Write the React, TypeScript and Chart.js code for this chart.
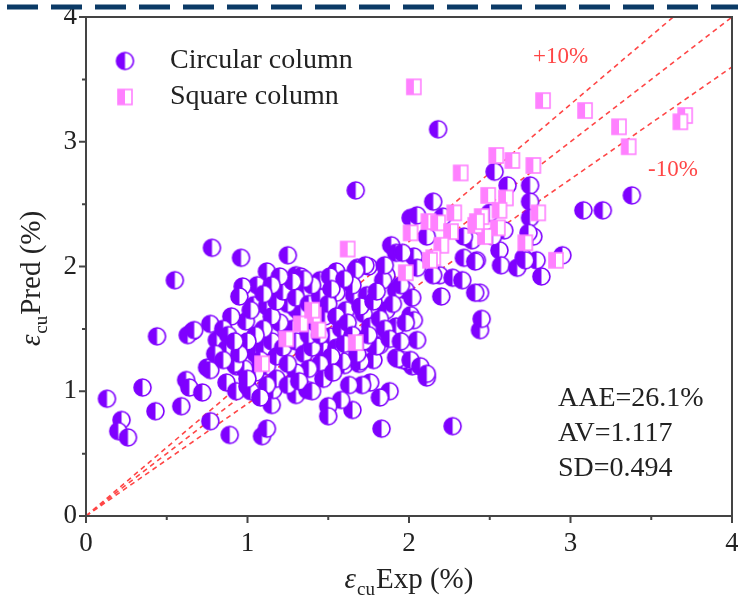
import React, { useEffect, useRef } from 'react';
import { Chart, registerables } from 'chart.js';

Chart.register(...registerables);

const SERIF = "'Liberation Serif', 'Times New Roman', Times, serif";

// ---- data ----
const xTicks = [0, 1, 2, 3, 4];
const yTicks = [0, 1, 2, 3, 4];
const refSlopes = [1.1, 1.0, 0.9];
const bandLabels = ['+10%', '-10%'];
const legendLabels = ['Circular column', 'Square column'];
const statsLines = ['AAE=26.1%', 'AV=1.117', 'SD=0.494'];

// [Exp, Pred] pairs
const circularColumn: [number, number][] = [
  [0.13, 0.94], [0.22, 0.77], [0.20, 0.68], [0.26, 0.63], [0.35, 1.03], [0.43, 0.84], [0.44, 1.44],
  [0.59, 0.88], [0.62, 1.09], [0.64, 1.03], [0.72, 0.99], [0.77, 0.76], [0.89, 0.65], [1.09, 0.64],
  [1.12, 0.70], [1.15, 0.89], [1.16, 1.01],
  [0.55, 1.89], [0.78, 2.15], [0.96, 2.07], [1.25, 2.09], [1.12, 1.96], [1.06, 1.85], [0.97, 1.84],
  [0.95, 1.76], [1.04, 1.69], [0.99, 1.56], [0.77, 1.54], [0.66, 1.48], [0.63, 1.45], [0.81, 1.41],
  [0.97, 1.37], [1.30, 1.93], [1.12, 1.68], [0.75, 1.19], [0.87, 1.07], [0.93, 1.00], [1.00, 1.04],
  [0.67, 1.49], [0.87, 1.34], [0.77, 1.17], [0.93, 1.20], [1.14, 1.46], [1.30, 1.66], [1.35, 1.79],
  [1.33, 1.92],
  [2.05, 1.41], [2.11, 1.11], [2.02, 1.20], [1.99, 1.24], [1.92, 1.27], [1.96, 1.25], [1.88, 1.00],
  [1.82, 0.95], [1.76, 1.07], [1.71, 1.05], [1.63, 1.05], [1.65, 0.85], [1.58, 0.93], [1.50, 0.88],
  [1.50, 0.80], [1.83, 0.70], [2.27, 0.72], [1.60, 1.21], [1.69, 1.22], [1.78, 1.25], [1.78, 1.37],
  [1.82, 1.37], [1.30, 0.97], [1.37, 1.01], [2.44, 1.49], [2.45, 1.58],
  [2.18, 3.10], [2.53, 2.76], [2.61, 2.65], [2.75, 2.65], [2.75, 2.52], [2.75, 2.39], [2.15, 2.52],
  [3.08, 2.45], [3.20, 2.45], [3.38, 2.57], [2.77, 2.24], [2.56, 2.13], [2.57, 2.01], [2.67, 1.99],
  [2.71, 2.07], [2.79, 2.05], [2.82, 1.92], [2.95, 2.09], [2.50, 2.43], [2.59, 2.29], [2.44, 1.79],
  [1.67, 2.61], [2.01, 2.39], [1.89, 2.17], [1.92, 2.11], [2.03, 2.08], [1.75, 2.00], [1.68, 1.99],
  [1.55, 1.96], [1.45, 1.89], [1.86, 1.93], [2.05, 1.99], [2.19, 1.93], [2.27, 1.91], [2.33, 1.89],
  [2.41, 1.79], [2.20, 1.76], [2.42, 2.05], [2.39, 2.21], [2.52, 2.24], [2.05, 2.41], [2.21, 2.40],
  [2.11, 2.24], [2.34, 2.24], [1.96, 2.11], [2.34, 2.07], [2.41, 2.04], [2.15, 1.93], [1.98, 1.81],
  [2.02, 1.75], [2.01, 1.61], [2.72, 2.05], [2.74, 2.27],
  [1.73, 2.01], [1.67, 1.97], [1.51, 1.92], [1.84, 1.89], [1.55, 1.79], [1.66, 1.77], [1.74, 1.77],
  [1.92, 1.81], [1.43, 1.69], [1.61, 1.65], [1.72, 1.62], [1.86, 1.65], [2.03, 1.57], [1.92, 1.52],
  [1.76, 1.52], [1.51, 1.44], [1.80, 1.36], [1.47, 1.33], [1.59, 1.24], [1.70, 1.24], [1.93, 1.26],
  [2.01, 1.25], [2.07, 1.20], [2.11, 1.14], [1.41, 1.60], [1.85, 2.01],
  [1.05, 1.30], [1.10, 1.35], [1.15, 1.40], [1.08, 1.25], [1.12, 1.20], [1.18, 1.28], [1.22, 1.35],
  [1.25, 1.45], [1.28, 1.50], [1.20, 1.55], [1.15, 1.60], [1.10, 1.50], [1.05, 1.45], [1.00, 1.40],
  [1.30, 1.40], [1.35, 1.30], [1.40, 1.35], [1.38, 1.45], [1.42, 1.55], [1.45, 1.45], [1.48, 1.60],
  [1.33, 1.62], [1.25, 1.70], [1.18, 1.72], [1.22, 1.80], [1.30, 1.75], [1.38, 1.70], [1.45, 1.75],
  [1.50, 1.70], [1.55, 1.60], [1.58, 1.50], [1.62, 1.55], [1.65, 1.45], [1.55, 1.35], [1.60, 1.38],
  [1.52, 1.28], [1.45, 1.22], [1.38, 1.18], [1.30, 1.15], [1.25, 1.22], [1.18, 1.10], [1.12, 1.05],
  [1.05, 1.15], [0.98, 1.18], [0.92, 1.22], [0.95, 1.30], [1.02, 1.00], [1.08, 0.95], [1.25, 1.05],
  [1.32, 1.08], [1.40, 1.00], [1.47, 1.10], [1.53, 1.15], [1.68, 1.30], [1.72, 1.40], [1.75, 1.45],
  [1.70, 1.68], [1.78, 1.72], [1.82, 1.58], [1.85, 1.50], [1.88, 1.42], [1.95, 1.40], [1.98, 1.55],
  [1.90, 1.70], [1.95, 1.85], [1.80, 1.80], [1.65, 1.85], [1.60, 1.90], [1.52, 1.82], [1.40, 1.85],
  [1.35, 1.90], [1.28, 1.88], [1.20, 1.92], [1.15, 1.85], [1.10, 1.78], [1.02, 1.65], [0.90, 1.60],
  [0.85, 1.50], [0.88, 1.45], [0.92, 1.40], [0.80, 1.30], [0.85, 1.25], [1.00, 1.10],
];

const squareColumn: [number, number][] = [
  [2.03, 3.44], [2.83, 3.33], [3.09, 3.25], [3.30, 3.12], [3.71, 3.21], [3.68, 3.16], [3.36, 2.96],
  [2.54, 2.89], [2.64, 2.85], [2.77, 2.81], [2.32, 2.75], [2.49, 2.57], [2.60, 2.55], [2.80, 2.43],
  [2.56, 2.45], [2.45, 2.40], [2.55, 2.31], [2.47, 2.24], [2.72, 2.19], [2.91, 2.05], [2.28, 2.43],
  [2.12, 2.36], [2.18, 2.35], [2.41, 2.33], [2.01, 2.27], [2.26, 2.28], [2.20, 2.17], [2.15, 2.07],
  [1.98, 1.95], [1.62, 2.14], [1.41, 1.61], [1.33, 1.54], [1.44, 1.49], [1.24, 1.42], [1.67, 1.39],
  [1.40, 1.65], [1.09, 1.22], [2.13, 2.05], [2.42, 2.36],
];

const PURPLE = 'rgb(127, 0, 255)';
const PINK = 'rgb(255, 128, 255)';
const RED = 'rgb(255, 70, 70)';

function makeCircle(r: number): HTMLCanvasElement {
  const c = document.createElement('canvas');
  const s = Math.ceil(2 * r + 4);
  c.width = s; c.height = s;
  const g = c.getContext('2d')!;
  const m = s / 2;
  g.fillStyle = '#fff';
  g.beginPath(); g.arc(m, m, r, 0, Math.PI * 2); g.fill();
  g.fillStyle = PURPLE;
  g.beginPath(); g.arc(m, m, r, Math.PI / 2, Math.PI * 1.5); g.closePath(); g.fill();
  g.strokeStyle = PURPLE; g.lineWidth = 1.6;
  g.beginPath(); g.arc(m, m, r, 0, Math.PI * 2); g.stroke();
  return c;
}

function makeSquare(w: number, h: number): HTMLCanvasElement {
  const c = document.createElement('canvas');
  c.width = w + 4; c.height = h + 4;
  const g = c.getContext('2d')!;
  g.fillStyle = '#fff';
  g.fillRect(2, 2, w, h);
  g.fillStyle = PINK;
  g.fillRect(2, 2, w / 2, h);
  g.strokeStyle = PINK; g.lineWidth = 1.6;
  g.strokeRect(2, 2, w, h);
  return c;
}

const noPad = (s: any) => {
  s.paddingLeft = 0; s.paddingRight = 0; s.paddingTop = 0; s.paddingBottom = 0;
};

export default function App() {
  const ref = useRef<HTMLCanvasElement | null>(null);

  useEffect(() => {
    document.body.style.margin = '0';
    const canvas = ref.current;
    if (!canvas) return;
    const circ = makeCircle(8.5);
    const sq = makeSquare(14, 15);

    const decor = {
      id: 'decor',
      beforeDraw(chart: any) {
        const ctx = chart.ctx;
        ctx.save();
        ctx.fillStyle = '#fff';
        ctx.fillRect(0, 0, chart.width, chart.height);
        ctx.restore();
      },
      afterDraw(chart: any) {
        const ctx: CanvasRenderingContext2D = chart.ctx;
        const { left, top, right, bottom } = chart.chartArea;
        const xs = chart.scales.x;
        const ys = chart.scales.y;
        ctx.save();
        // frame
        ctx.strokeStyle = '#444';
        ctx.lineWidth = 2;
        ctx.strokeRect(left, top, right - left, bottom - top);
        // ticks
        ctx.beginPath();
        for (let v = 0; v <= 4.001; v += 0.5) {
          const major = Math.abs(v - Math.round(v)) < 1e-6;
          const len = major ? 7 : 4;
          const px = xs.getPixelForValue(v);
          ctx.moveTo(px, bottom); ctx.lineTo(px, bottom + len);
          const py = ys.getPixelForValue(v);
          ctx.moveTo(left, py); ctx.lineTo(left - len, py);
        }
        ctx.stroke();

        // top navy dashed rule
        ctx.strokeStyle = '#0b3a66';
        ctx.lineWidth = 5;
        ctx.setLineDash([31, 13]);
        ctx.beginPath(); ctx.moveTo(7, 7); ctx.lineTo(chart.width, 7); ctx.stroke();
        ctx.setLineDash([]);

        // legend
        ctx.fillStyle = '#222';
        ctx.font = `28px ${SERIF}`;
        ctx.textBaseline = 'middle';
        ctx.textAlign = 'left';
        const legY = [61, 97];
        ctx.drawImage(circ, 125 - circ.width / 2, legY[0] - circ.height / 2);
        ctx.drawImage(sq, 125 - sq.width / 2, legY[1] - sq.height / 2);
        ctx.fillText(legendLabels[0], 170, legY[0]);
        ctx.fillText(legendLabels[1], 170, legY[1]);

        // band labels
        ctx.fillStyle = RED;
        ctx.font = `23px ${SERIF}`;
        ctx.fillText(bandLabels[0], 533, 57);
        ctx.fillText(bandLabels[1], 648, 170);

        // stats
        ctx.fillStyle = '#222';
        ctx.font = `28px ${SERIF}`;
        statsLines.forEach((s, i) => ctx.fillText(s, 558, 399 + i * 35));

        // axis titles with subscript
        const drawTitle = (main: string) => {
          const big = `29px ${SERIF}`;
          const ital = `italic 29px ${SERIF}`;
          const small = `19px ${SERIF}`;
          ctx.font = ital; const w1 = ctx.measureText('\u03b5').width;
          ctx.font = small; const w2 = ctx.measureText('cu').width;
          ctx.font = big; const w3 = ctx.measureText(main).width;
          const total = w1 + w2 + w3 + 2;
          let x = -total / 2;
          ctx.textBaseline = 'alphabetic';
          ctx.font = ital; ctx.fillText('\u03b5', x, 0); x += w1 + 1;
          ctx.font = small; ctx.fillText('cu', x, 7); x += w2 + 1;
          ctx.font = big; ctx.fillText(main, x, 0);
        };
        ctx.fillStyle = '#222';
        ctx.save();
        ctx.translate((left + right) / 2, 588);
        drawTitle('Exp (%)');
        ctx.restore();
        ctx.save();
        ctx.translate(40, (top + bottom) / 2 + 12);
        ctx.rotate(-Math.PI / 2);
        drawTitle('Pred (%)');
        ctx.restore();

        ctx.restore();
      },
    };

    const refData = refSlopes.map((k) => {
      const xEnd = Math.min(4, 4 / k);
      return [{ x: 0, y: 0 }, { x: xEnd, y: k * xEnd }];
    });

    const chart = new Chart(canvas, {
      type: 'scatter',
      data: {
        datasets: [
          ...refData.map((d, i) => ({
            type: 'line' as const,
            label: 'ref' + i,
            data: d,
            borderColor: RED,
            borderWidth: 1.6,
            borderDash: [5, 4],
            pointRadius: 0,
            fill: false,
            order: 5,
          })),
          {
            label: legendLabels[0],
            data: circularColumn.map(([x, y]) => ({ x, y })),
            pointStyle: circ,
            pointRadius: 9,
            order: 2,
          },
          {
            label: legendLabels[1],
            data: squareColumn.map(([x, y]) => ({ x, y })),
            pointStyle: sq,
            pointRadius: 8,
            order: 1,
          },
        ],
      },
      options: {
        responsive: false,
        animation: false,
        layout: { autoPadding: false, padding: { top: 17, right: 6, left: 0, bottom: 0 } },
        plugins: { legend: { display: false }, tooltip: { enabled: false } },
        scales: {
          x: {
            type: 'linear',
            min: 0,
            max: 4,
            afterBuildTicks: (s: any) => { s.ticks = xTicks.map((v) => ({ value: v })); },
            ticks: { font: { family: SERIF, size: 27 }, color: '#222', padding: 12, maxRotation: 0 },
            grid: { display: false, drawTicks: false },
            border: { display: false },
            afterFit: (s: any) => { s.height = 83; noPad(s); },
          },
          y: {
            type: 'linear',
            min: 0,
            max: 4,
            afterBuildTicks: (s: any) => { s.ticks = yTicks.map((v) => ({ value: v })); },
            ticks: { font: { family: SERIF, size: 27 }, color: '#222', padding: 9 },
            grid: { display: false, drawTicks: false },
            border: { display: false },
            afterFit: (s: any) => { s.width = 86; noPad(s); },
          },
        },
      },
      plugins: [decor],
    });
    return () => chart.destroy();
  }, []);

  return <canvas ref={ref} width={738} height={599} style={{ display: 'block' }} />;
}
